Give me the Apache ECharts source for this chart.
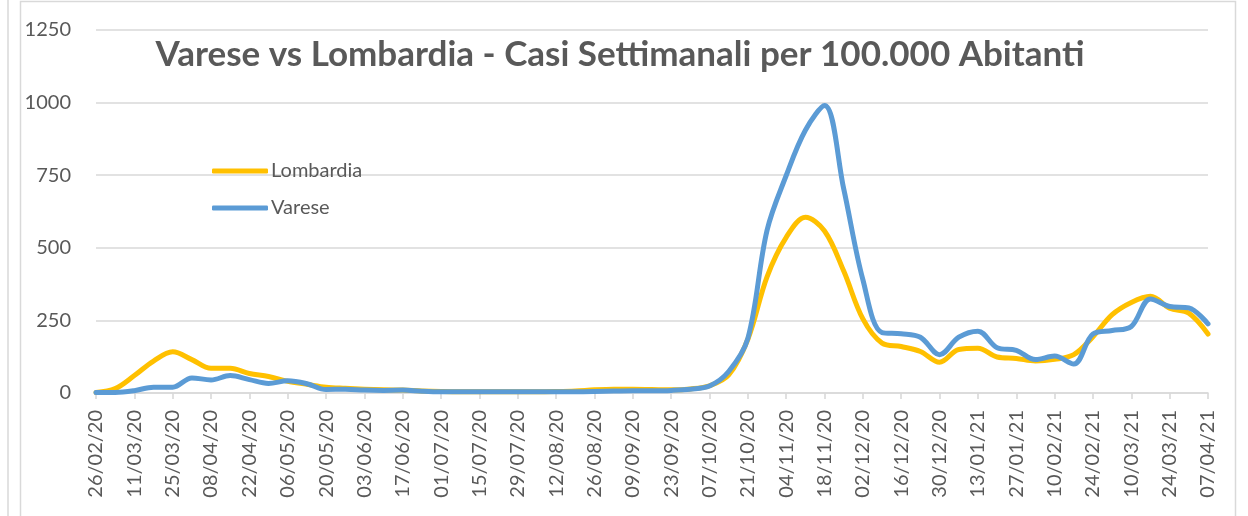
<!DOCTYPE html>
<html>
<head>
<meta charset="utf-8">
<title>Varese vs Lombardia</title>
<script src="https://cdn.jsdelivr.net/npm/echarts@6/dist/echarts.min.js"></script>
<style>
  html, body { margin: 0; padding: 0; background: #ffffff; }
  #chart { width: 1248px; height: 516px; }
</style>
</head>
<body>
<div id="chart"></div>
<script>
// Weekly dates (week ending), 26/02/20 .. 07/04/21
const weeks = [
  '26/02/20','04/03/20','11/03/20','18/03/20','25/03/20','01/04/20','08/04/20','15/04/20',
  '22/04/20','29/04/20','06/05/20','13/05/20','20/05/20','27/05/20','03/06/20','10/06/20',
  '17/06/20','24/06/20','01/07/20','08/07/20','15/07/20','22/07/20','29/07/20','05/08/20',
  '12/08/20','19/08/20','26/08/20','02/09/20','09/09/20','16/09/20','23/09/20','30/09/20',
  '07/10/20','14/10/20','21/10/20','28/10/20','04/11/20','11/11/20','18/11/20','25/11/20',
  '02/12/20','09/12/20','16/12/20','23/12/20','30/12/20','06/01/21','13/01/21','20/01/21',
  '27/01/21','03/02/21','10/02/21','17/02/21','24/02/21','03/03/21','10/03/21','17/03/21',
  '24/03/21','31/03/21','07/04/21'
];

// Weekly cases per 100,000 inhabitants
const lombardia = [
  2, 15, 60, 110, 142, 115, 85, 85,
  67, 57, 40, 30, 20, 16, 13, 11,
  10, 7, 5, 4, 4, 4, 4, 4,
  5, 7, 11, 13, 13, 12, 11, 14,
  25, 62, 185, 400, 536, 605, 558, 420,
  255, 172, 160, 143, 106, 150, 154, 124,
  119, 110, 116, 132, 194, 270, 312, 333,
  292, 275, 203
];
const varese = [
  2, 2, 8, 20, 20, 52, 45, 60,
  46, 33, 42, 32, 12, 13, 10, 9,
  10, 6, 4, 4, 4, 4, 4, 4,
  4, 4, 5, 7, 8, 8, 9, 13,
  24, 74, 188, 560, 749, 905, 990, 703,
  390, 208, 204, 192, 132, 192, 213, 156,
  147, 115, 127, 100, 203, 215, 229, 324,
  298, 293, 238
];

const yTicks = { min: 0, max: 1250, step: 250 };

const textGrey = '#595959';
const lineGrey = '#D9D9D9';
const font = 'Lato, "Noto Sans", sans-serif';

const chart = echarts.init(document.getElementById('chart'), null, { renderer: 'canvas' });

chart.setOption({
  backgroundColor: '#ffffff',
  animation: false,
  title: {
    text: 'Varese vs Lombardia - Casi Settimanali per 100.000 Abitanti',
    left: 615,
    textAlign: 'center',
    top: 32,
    textStyle: { fontFamily: font, fontWeight: 'bold', fontSize: 35, color: textGrey }
  },
  legend: {
    orient: 'vertical',
    left: 207,
    top: 156,
    itemWidth: 56,
    itemHeight: 5,
    itemGap: 17,
    icon: 'roundRect',
    textStyle: { fontFamily: font, fontSize: 20, color: textGrey, padding: [0, 0, 0, -2] },
    data: ['Lombardia', 'Varese']
  },
  grid: { left: 96, right: 40, top: 30, bottom: 123, containLabel: false },
  xAxis: {
    type: 'category',
    data: weeks,
    boundaryGap: false,
    axisLine: { lineStyle: { color: lineGrey, width: 1.6 } },
    axisTick: { show: true, interval: 1, length: 6, lineStyle: { color: lineGrey, width: 1.6 } },
    axisLabel: {
      interval: 1, rotate: 90, margin: 17,
      fontFamily: font, fontSize: 20, color: textGrey
    },
    splitLine: { show: false }
  },
  yAxis: {
    type: 'value',
    min: yTicks.min,
    max: yTicks.max,
    interval: yTicks.step,
    axisLine: { show: false },
    axisTick: { show: false },
    axisLabel: {
      margin: 25, fontFamily: font, fontSize: 20, color: textGrey,
      formatter: (v) => String(v)
    },
    splitLine: { lineStyle: { color: lineGrey, width: 1.6 } }
  },
  series: [
    {
      name: 'Lombardia', type: 'line', data: lombardia,
      smooth: 0.35, showSymbol: false, symbol: 'none',
      lineStyle: { color: '#FFC000', width: 5, cap: 'round', join: 'round' },
      itemStyle: { color: '#FFC000' }, z: 2
    },
    {
      name: 'Varese', type: 'line', data: varese,
      smooth: 0.35, showSymbol: false, symbol: 'none',
      lineStyle: { color: '#5B9BD5', width: 5, cap: 'round', join: 'round' },
      itemStyle: { color: '#5B9BD5' }, z: 3
    }
  ],
  graphic: [
    // chart frame
    { type: 'rect', silent: true, z: -1,
      shape: { x: 20.5, y: 1.5, width: 1215, height: 520 },
      style: { fill: null, stroke: lineGrey, lineWidth: 1.5 } },
    // edge of the neighbouring panel
    { type: 'line', silent: true,
      shape: { x1: 8, y1: 0, x2: 8, y2: 516 },
      style: { stroke: lineGrey, lineWidth: 1.5 } }
  ]
});
</script>
</body>
</html>
